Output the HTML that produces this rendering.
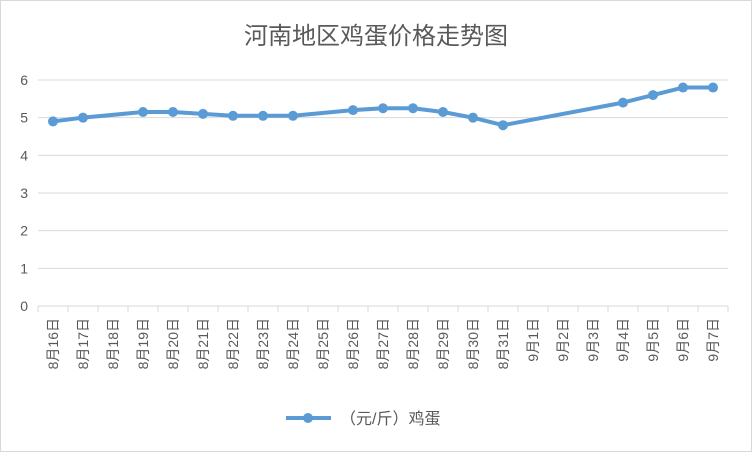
<!DOCTYPE html>
<html><head><meta charset="utf-8"><style>
body{margin:0;background:#fff}
svg{display:block;font-family:"Liberation Sans","Noto Sans CJK SC",sans-serif}
</style></head><body>
<svg width="752" height="452" id="c">
<rect x="0.5" y="0.5" width="751" height="451" fill="#fff" stroke="#d9d9d9"/>
<text x="376" y="44" text-anchor="middle" font-size="24" fill="#595959">河南地区鸡蛋价格走势图</text>
<g id="grid"></g><g id="xax"></g><g id="ser"></g>
<g>
<line x1="286" y1="418" x2="331" y2="418" stroke="#5b9bd5" stroke-width="4"/>
<circle cx="308" cy="418" r="5" fill="#5b9bd5"/>
<text x="340" y="424" font-size="16" fill="#595959">（元/斤）鸡蛋</text>
</g>
</svg>
<script>
const categories=["8月16日","8月17日","8月18日","8月19日","8月20日","8月21日","8月22日","8月23日","8月24日","8月25日","8月26日","8月27日","8月28日","8月29日","8月30日","8月31日","9月1日","9月2日","9月3日","9月4日","9月5日","9月6日","9月7日"];
const values=[4.9,5.0,null,5.15,5.15,5.1,5.05,5.05,5.05,null,5.2,5.25,5.25,5.15,5.0,4.8,null,null,null,5.4,5.6,5.8,5.8];
const yTicks=[0,1,2,3,4,5,6];
const NS="http://www.w3.org/2000/svg";
const L=38,R=728,T=80,B=306,ymax=6;
const bw=(R-L)/categories.length;
const x=i=>L+bw*(i+0.5);
const y=v=>B-(v/ymax)*(B-T);
function mk(t,a,p){const e=document.createElementNS(NS,t);for(const k in a)e.setAttribute(k,a[k]);p.appendChild(e);return e;}
const g=document.getElementById('grid'),xa=document.getElementById('xax'),s=document.getElementById('ser');
yTicks.forEach(v=>{
 if(v>0){const l=mk('line',{x1:L,x2:R,y1:y(v),y2:y(v),stroke:'#d9d9d9'},g);
 
 }
 const t=mk('text',{x:28,y:y(v)+5,'text-anchor':'end','font-size':14,fill:'#595959'},g);
 t.textContent=v;
 
 
});
const ax=mk('line',{x1:L,x2:R,y1:B,y2:B,stroke:'#d9d9d9'},xa);


for(let i=0;i<=categories.length;i++){
 const tk=mk('line',{x1:L+bw*i,x2:L+bw*i,y1:B,y2:B+6,stroke:'#d9d9d9'},xa);
 
 
}
categories.forEach((c,i)=>{
 const t=mk('text',{transform:`translate(${x(i)+5},318) rotate(-90)`,'text-anchor':'end','font-size':14,fill:'#595959'},xa);
 t.textContent=c;
 
 
});
const pts=[];values.forEach((v,i)=>{if(v!=null)pts.push([x(i),y(v)]);});
const pl=mk('polyline',{points:pts.map(p=>p.join(',')).join(' '),fill:'none',stroke:'#5b9bd5','stroke-width':4,'stroke-linejoin':'round'},s);


pts.forEach(p=>{
 const c=mk('circle',{cx:p[0],cy:p[1],r:5,fill:'#5b9bd5'},s);
 
 
});
</script>
</body></html>
